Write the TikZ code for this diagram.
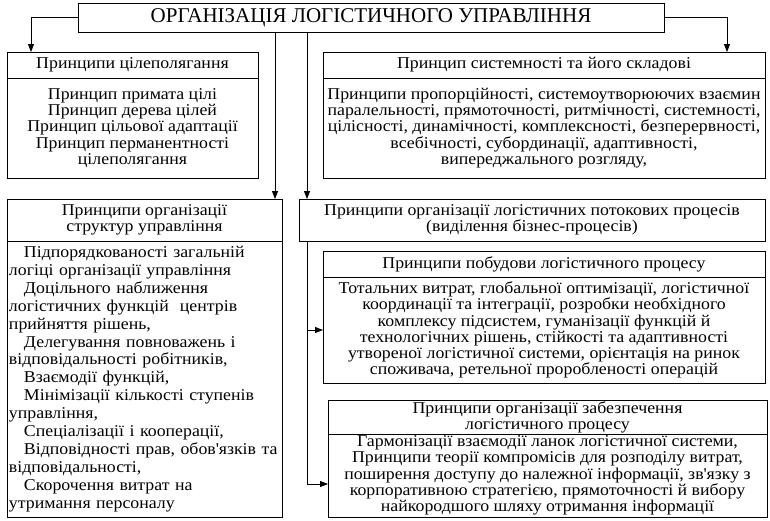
\documentclass[tikz,border=0pt]{standalone}
\usepackage{fontspec}
\setmainfont{Liberation Serif}
\newfontfamily\bodyfont{Liberation Serif}[FakeStretch=1.08]
\usetikzlibrary{positioning, arrows.meta}

\newcommand{\ind}{\hspace*{15pt}}

\begin{document}
\begin{tikzpicture}[
  x=1pt, y=1pt,
  box/.style={rectangle, draw, line width=0.8pt, outer sep=0pt, inner sep=1pt, align=center, font=\bodyfont\fontsize{16.5}{16.2}\selectfont},
  head/.style={box, minimum height=26pt},
  node distance=0pt,
  arr/.style={-{Triangle[length=8pt, width=6pt]}, line width=0.8pt}
]
\useasboundingbox (0,0) rectangle (770,-520);

% top
\node[box, minimum width=586pt, minimum height=29pt, font=\fontsize{21}{22}\selectfont] (title) at (371,-17.5) {ОРГАНІЗАЦІЯ ЛОГІСТИЧНОГО УПРАВЛІННЯ};

% first row
\node[head, minimum width=251pt] (goalH) at (132.5,-65) {Принципи цілеполягання};
\node[box, minimum width=251pt, minimum height=100pt, below=of goalH] (goalB) {Принцип примата цілі\\Принцип дерева цілей\\Принцип цільової адаптації\\Принцип перманентності\\цілеполягання};
\node[head, minimum width=442pt] (sysH) at (544,-65) {Принцип системності та його складові};
\node[box, minimum width=442pt, minimum height=100pt, below=of sysH] (sysB) {Принципи пропорційності, системоутворюючих взаємин\\паралельності, прямоточності, ритмічності, системності,\\цілісності, динамічності, комплексності, безперервності,\\всебічності, субординації, адаптивності,\\випереджального розгляду,};

% second row
\node[head, minimum width=275pt, minimum height=42pt] (structH) at (144.5,-220) {Принципи організації\\структур управління};
\node[box, text width=271pt, inner xsep=2pt, minimum height=276pt, align=left, below=of structH, font=\bodyfont\fontsize{16.5}{17.9}\selectfont] (structB) {\ind Підпорядкованості загальній\\логіці організації управління\\\ind Доцільного наближення\\логістичних функцій\ \ центрів\\прийняття рішень,\\\ind Делегування повноважень і\\відповідальності робітників,\\\ind Взаємодії функцій,\\\ind Мінімізації кількості ступенів\\управління,\\\ind Спеціалізації і кооперації,\\\ind Відповідності прав, обов\textquotesingle язків та\\відповідальності,\\\ind Скорочення витрат на\\утримання персоналу};
\node[head, minimum width=466pt, minimum height=42pt] (flow) at (532,-220) {Принципи організації логістичних потокових процесів\\(виділення бізнес-процесів)};

\node[head, minimum width=442pt] (buildH) at (544,-264) {Принципи побудови логістичного процесу};
\node[box, minimum width=442pt, minimum height=106pt, below=of buildH] (buildB) {Тотальних витрат, глобальної оптимізації, логістичної\\координації та інтеграції, розробки необхідного\\комплексу підсистем, гуманізації функцій й\\технологічних рішень, стійкості та адаптивності\\утвореної логістичної системи, орієнтація на ринок\\споживача, ретельної проробленості операцій};

\node[head, minimum width=439pt, minimum height=34pt] (supH) at (547.5,-417) {Принципи організації забезпечення\\логістичного процесу};
\node[box, minimum width=439pt, minimum height=83pt, below=of supH] (supB) {Гармонізації взаємодії ланок логістичної системи,\\Принципи теорії компромісів для розподілу витрат,\\поширення доступу до належної інформації, зв\textquotesingle язку з\\корпоративною стратегією, прямоточності й вибору\\найкородшого шляху отримання інформації};

% connectors
\draw[arr] (title.west) -| ([xshift=24pt]goalH.north west);
\draw[arr] (title.east) -| ([xshift=-38pt]sysH.north east);
\draw[arr] ([xshift=-7pt]structH.north east |- title.south) -- ([xshift=-7pt]structH.north east);
\draw[arr] ([xshift=8pt]flow.north west |- title.south) -- ([xshift=8pt]flow.north west);
\coordinate (fl) at ([xshift=8pt]flow.south west);
\draw[arr] (fl) |- ([yshift=-8.5pt]supB.west);
\draw[arr] (fl |- buildB.west) -- (buildB.west);
\end{tikzpicture}
\end{document}
